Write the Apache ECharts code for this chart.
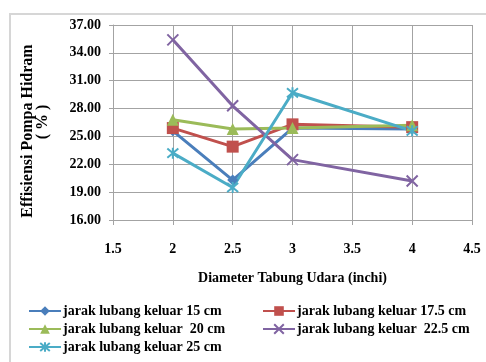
<!DOCTYPE html>
<html>
<head>
<meta charset="utf-8">
<script src="https://cdn.jsdelivr.net/npm/echarts@6/dist/echarts.min.js"></script>
<style>
  html, body { margin: 0; padding: 0; background: #fff; }
  #chart { width: 486px; height: 362px; }
</style>
</head>
<body>
<div id="chart"></div>
<script>
// Diameter of the air chamber (inch) for each measurement
const diameters = [2, 2.5, 3, 4];

// Hydram pump efficiency (%) per outlet-hole distance
const eff15 = [25.6, 20.3, 25.9, 25.8];
const eff175 = [25.9, 23.9, 26.3, 26.0];
const eff20 = [26.8, 25.8, 25.9, 26.2];
const eff225 = [35.4, 28.3, 22.5, 20.2];
const eff25 = [23.2, 19.5, 29.7, 25.6];

const seriesNames = [
  'jarak lubang keluar 15 cm',
  'jarak lubang keluar 17.5 cm',
  'jarak lubang keluar  20 cm',
  'jarak lubang keluar  22.5 cm',
  'jarak lubang keluar 25 cm'
];

// Axis ticks
const xTicks = [1.5, 2, 2.5, 3, 3.5, 4, 4.5];
const yTicks = [16, 19, 22, 25, 28, 31, 34, 37];

const FONT = '"Liberation Serif", "Times New Roman", serif';
const GRID_COLOR = '#a3a3a3';

const pair = vals => diameters.map((d, i) => [d, vals[i]]);

const crossPath = 'path://M0,0L10,10M10,0L0,10';
const starPath = 'path://M0,0L10,10M10,0L0,10M5,-1L5,11';

function lineSeries(name, vals, color, symbol, size, stroke) {
  return {
    name: name,
    type: 'line',
    data: pair(vals),
    symbol: symbol,
    symbolSize: size,
    showSymbol: true,
    lineStyle: { color: color, width: 3 },
    itemStyle: stroke
      ? { color: color, borderColor: color, borderWidth: 2 }
      : { color: color, borderWidth: 0 },
    emphasis: { disabled: true },
    animation: false
  };
}

const legendText = { color: '#000', fontFamily: FONT, fontWeight: 'bold', fontSize: 14, padding: [0, 0, 0, -3] };

const chart = echarts.init(document.getElementById('chart'), null, { renderer: 'canvas' });

chart.setOption({
  animation: false,
  backgroundColor: '#fff',
  grid: { left: 113, right: 14, top: 25, bottom: 142, containLabel: false },
  xAxis: {
    type: 'value',
    min: 1.5,
    max: 4.5,
    interval: 0.5,
    axisLine: { show: true, lineStyle: { color: GRID_COLOR, width: 1 } },
    axisTick: { show: true, length: 5, lineStyle: { color: GRID_COLOR } },
    splitLine: { show: true, lineStyle: { color: GRID_COLOR, width: 1 } },
    axisLabel: {
      customValues: xTicks,
      margin: 22,
      color: '#000',
      fontFamily: FONT,
      fontWeight: 'bold',
      fontSize: 14,
      formatter: v => String(v)
    },
    name: 'Diameter Tabung Udara (inchi)',
    nameLocation: 'middle',
    nameGap: 51,
    nameTextStyle: { color: '#000', fontFamily: FONT, fontWeight: 'bold', fontSize: 14 }
  },
  yAxis: {
    type: 'value',
    min: 16,
    max: 37,
    axisLine: { show: true, lineStyle: { color: GRID_COLOR, width: 1 } },
    axisTick: { show: true, length: 4, customValues: yTicks, lineStyle: { color: GRID_COLOR } },
    splitLine: { show: true, customValues: yTicks, lineStyle: { color: GRID_COLOR, width: 1 } },
    axisLabel: {
      customValues: yTicks,
      margin: 12,
      color: '#000',
      fontFamily: FONT,
      fontWeight: 'bold',
      fontSize: 14,
      formatter: v => v.toFixed(2)
    }
  },
  legend: [
    {
      left: 28, top: 304, height: 58, padding: 0, orient: 'vertical',
      itemWidth: 32, itemHeight: 12, itemGap: 4,
      textStyle: legendText,
      data: [seriesNames[0], seriesNames[2], seriesNames[4]],
      selectedMode: false
    },
    {
      left: 262, top: 304, height: 58, padding: 0, orient: 'vertical',
      itemWidth: 32, itemHeight: 12, itemGap: 4,
      textStyle: legendText,
      data: [seriesNames[1], seriesNames[3]],
      selectedMode: false
    }
  ],
  graphic: [
    {
      type: 'rect',
      silent: true,
      shape: { x: 10, y: 14, width: 600, height: 500 },
      style: { fill: 'none', stroke: '#d6d6d6', lineWidth: 2 }
    },
    {
      type: 'text',
      x: 28, y: 131,
      rotation: Math.PI / 2,
      style: {
        text: 'Effisiensi Pompa Hidram',
        x: 0, y: 0,
        align: 'center', verticalAlign: 'middle',
        textAlign: 'center', textVerticalAlign: 'middle',
        font: 'bold 16px ' + FONT,
        fill: '#000'
      }
    },
    {
      type: 'text',
      x: 43, y: 122,
      rotation: Math.PI / 2,
      style: {
        text: '( % )',
        x: 0, y: 0,
        align: 'center', verticalAlign: 'middle',
        textAlign: 'center', textVerticalAlign: 'middle',
        font: 'bold 16px ' + FONT,
        fill: '#000'
      }
    }
  ],
  series: [
    lineSeries(seriesNames[0], eff15, '#4a7ebb', 'diamond', 11, false),
    lineSeries(seriesNames[1], eff175, '#c0504d', 'rect', 12, false),
    lineSeries(seriesNames[2], eff20, '#9bbb59', 'triangle', 12, false),
    lineSeries(seriesNames[3], eff225, '#8064a2', crossPath, 11, true),
    lineSeries(seriesNames[4], eff25, '#4bacc6', starPath, 11, true)
  ]
});
</script>
</body>
</html>
